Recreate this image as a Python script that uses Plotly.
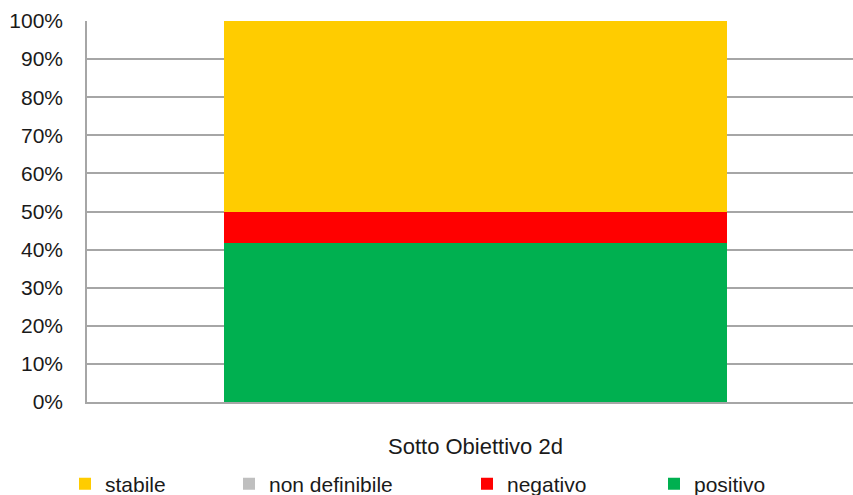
import plotly.graph_objects as go

# data (counts per outcome, shown as 100% stacked)
category = ["Sotto Obiettivo 2d"]
positivo = [5]
negativo = [1]
non_definibile = [0]
stabile = [6]

series = [
    ("positivo", positivo, "#00B050", "legend4", 672),
    ("negativo", negativo, "#FF0000", "legend3", 485),
    ("non definibile", non_definibile, "#BFBFBF", "legend2", 247),
    ("stabile", stabile, "#FFCC00", "legend", 83),
]

W, H = 853, 495
font = dict(family="Liberation Sans, Arial, sans-serif", size=21, color="#1a1a1a")

fig = go.Figure()
for name, vals, color, leg, _ in series:
    fig.add_trace(go.Bar(
        x=category, y=vals, name=name, marker_color=color,
        marker_line_width=0, width=0.648, legend=leg,
    ))

# one legend per entry so each sits where the original puts it
legends = {}
for name, vals, color, leg, xpos in series:
    legends[leg] = dict(
        x=(xpos - 18) / W, xref="container", xanchor="left",
        y=(H - 484) / H, yref="container", yanchor="middle",
        orientation="h", font=font, bgcolor="rgba(0,0,0,0)",
        itemclick=False,
    )

fig.update_layout(
    width=W, height=H,
    margin=dict(l=87, r=0, t=21, b=93, autoexpand=False),
    barmode="stack", barnorm="percent",
    plot_bgcolor="white", paper_bgcolor="white",
    font=font, showlegend=True,
    **legends,
)
fig.update_yaxes(
    range=[0, 100], dtick=10, ticksuffix="%",
    showgrid=True, gridcolor="#A6A6A6", gridwidth=1.5,
    showline=True, linecolor="#A6A6A6", linewidth=1.5,
    zeroline=False, ticks="", ticklabelstandoff=18,
)
fig.update_xaxes(
    range=[-0.5, 0.486], showgrid=False,
    showline=True, linecolor="#A6A6A6", linewidth=1.5,
    ticks="", ticklabelstandoff=24, tickfont=dict(size=22),
)

# page has a default body margin; drop it so the figure fills the window
fix_page = (
    "document.body.style.margin='0';"
    "document.body.style.overflow='hidden';"
    "Plotly.relayout('{plot_id}', {width: %d, height: %d});" % (W, H)
)
fig.write_html("out.html", post_script=fix_page, config={"displayModeBar": False})
